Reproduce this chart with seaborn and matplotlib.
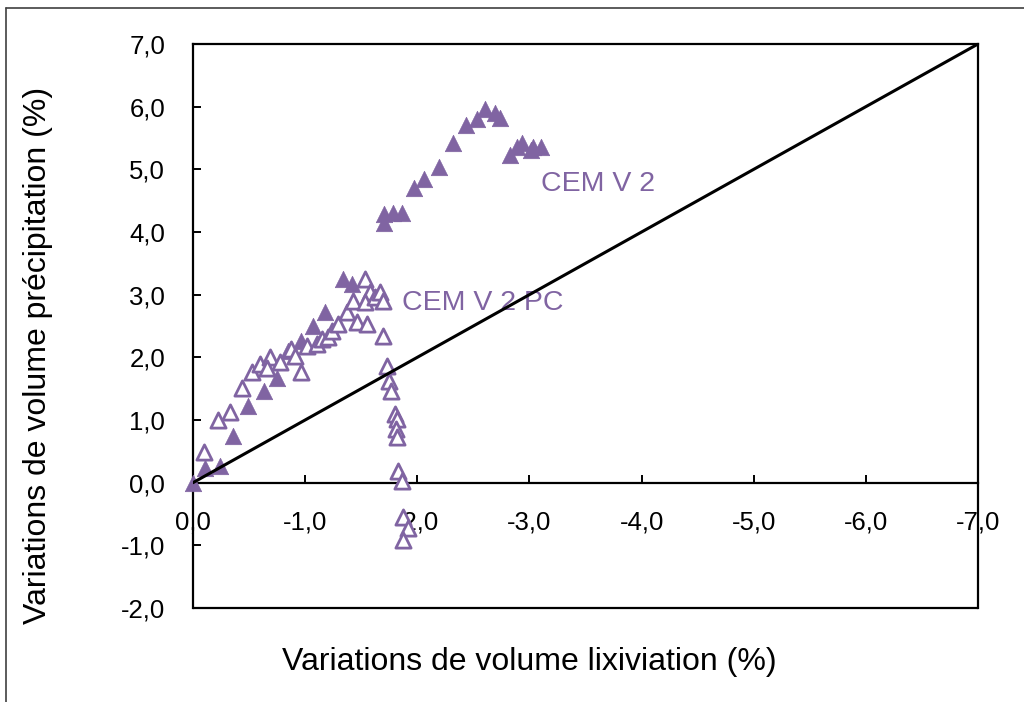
import matplotlib
matplotlib.use("Agg")
import matplotlib.pyplot as plt
import seaborn as sns
import pandas as pd
from matplotlib.lines import Line2D
from matplotlib.ticker import FuncFormatter, FixedLocator

# ---- data ----
cem_x = [0.0, -0.11, -0.24, -0.36, -0.49, -0.63, -0.75, -0.85, -0.96, -1.07, -1.18,
         -1.34, -1.42, -1.70, -1.70, -1.78, -1.86, -1.97, -2.06, -2.19, -2.32, -2.43,
         -2.53, -2.60, -2.69, -2.74, -2.83, -2.89, -2.93, -3.01, -3.03, -3.10]
cem_y = [0.0, 0.24, 0.27, 0.75, 1.23, 1.46, 1.67, 2.10, 2.26, 2.50, 2.72,
         3.25, 3.17, 4.15, 4.28, 4.30, 4.31, 4.71, 4.85, 5.04, 5.42, 5.70,
         5.81, 5.97, 5.90, 5.82, 5.23, 5.36, 5.42, 5.31, 5.36, 5.35]

pc_x = [-0.10, -0.22, -0.33, -0.44, -0.53, -0.60, -0.69, -0.66, -0.78, -0.87, -0.91,
        -0.96, -1.02, -1.11, -1.15, -1.20, -1.24, -1.29, -1.37, -1.43, -1.46, -1.55,
        -1.53, -1.58, -1.53, -1.62, -1.67, -1.69, -1.69, -1.73, -1.75, -1.77, -1.80,
        -1.82, -1.81, -1.82, -1.83, -1.86, -1.87, -1.92, -1.87]
pc_y = [0.49, 1.00, 1.13, 1.51, 1.77, 1.89, 2.00, 1.83, 1.92, 2.13, 2.02,
        1.77, 2.18, 2.21, 2.29, 2.32, 2.42, 2.53, 2.72, 2.90, 2.56, 2.53,
        3.25, 3.05, 2.88, 2.97, 3.04, 2.90, 2.34, 1.86, 1.62, 1.46, 1.10,
        1.02, 0.86, 0.73, 0.19, 0.03, -0.54, -0.73, -0.91]

ref_x = [0.0, -7.0]
ref_y = [0.0, 7.0]

x_ticks = [0, -1, -2, -3, -4, -5, -6, -7]
y_ticks = [-2, -1, 0, 1, 2, 3, 4, 5, 6, 7]

label_cem = "CEM V 2"
label_pc = "CEM V 2 PC"
x_title = "Variations de volume lixiviation (%)"
y_title = "Variations de volume précipitation (%)"

purple = "#8064A2"

# ---- plot ----
sns.set_theme(style="white")
plt.rcParams["font.family"] = ["Liberation Sans", "DejaVu Sans"]
plt.rcParams["text.color"] = "black"

fig = plt.figure(figsize=(10.24, 7.02), dpi=100)
W, H = 1024, 702
ax = fig.add_axes([193 / W, 1 - 608 / H, (978 - 193) / W, (608 - 44) / H])

df_cem = pd.DataFrame({"x": cem_x, "y": cem_y})
df_pc = pd.DataFrame({"x": pc_x, "y": pc_y})

sns.scatterplot(data=df_cem, x="x", y="y", ax=ax, marker="^", s=140,
                color=purple, edgecolor=purple, linewidth=0.5, zorder=3,
                legend=False, clip_on=False)
sns.scatterplot(data=df_pc, x="x", y="y", ax=ax, marker="^", s=120,
                facecolor="white", edgecolor=purple, linewidth=2.0, zorder=4,
                legend=False, clip_on=False)
sns.lineplot(x=ref_x, y=ref_y, ax=ax, color="black", linewidth=2.2, zorder=5)

ax.set_xlim(0, -7)
ax.set_ylim(-2, 7)
ax.xaxis.set_major_locator(FixedLocator(x_ticks))
ax.yaxis.set_major_locator(FixedLocator(y_ticks))
fmt = FuncFormatter(lambda v, p: f"{v:.1f}".replace(".", ",").replace("−", "-"))
ax.xaxis.set_major_formatter(fmt)
ax.yaxis.set_major_formatter(fmt)

for s in ax.spines.values():
    s.set_color("black")
    s.set_linewidth(1.6)
    s.set_visible(True)
ax.spines["bottom"].set_position(("data", 0))
ax.plot([0, 1], [0, 0], transform=ax.transAxes, color="black", lw=1.6,
        clip_on=False, zorder=6)

ax.tick_params(axis="x", direction="in", length=6, width=1.4, pad=20,
               labelsize=18.5, colors="black", bottom=True)
ax.tick_params(axis="y", direction="in", length=6, width=1.4, pad=20,
               labelsize=18.5, colors="black", left=True)
ax.set_xlabel("")
ax.set_ylabel("")
ax.grid(False)

ax.text(-3.1, 4.76, label_cem, color=purple, fontsize=20.5, ha="left", va="center")
ax.text(-1.86, 2.86, label_pc, color=purple, fontsize=20.5, ha="left", va="center")

fig.text(529 / W, 1 - 662 / H, x_title, fontsize=23, ha="center", va="center",
         color="black")
fig.text(38 / W, 1 - 355 / H, y_title, fontsize=23, ha="center", va="center",
         rotation=90, color="black")

# outer chart-area frame
fig.add_artist(Line2D([6 / W, 6 / W], [0, 1 - 8 / H], transform=fig.transFigure,
                      color="#404040", lw=1.2))
fig.add_artist(Line2D([6 / W, 1], [1 - 8 / H, 1 - 8 / H], transform=fig.transFigure,
                      color="#404040", lw=1.2))

fig.savefig("out.png", dpi=100)
